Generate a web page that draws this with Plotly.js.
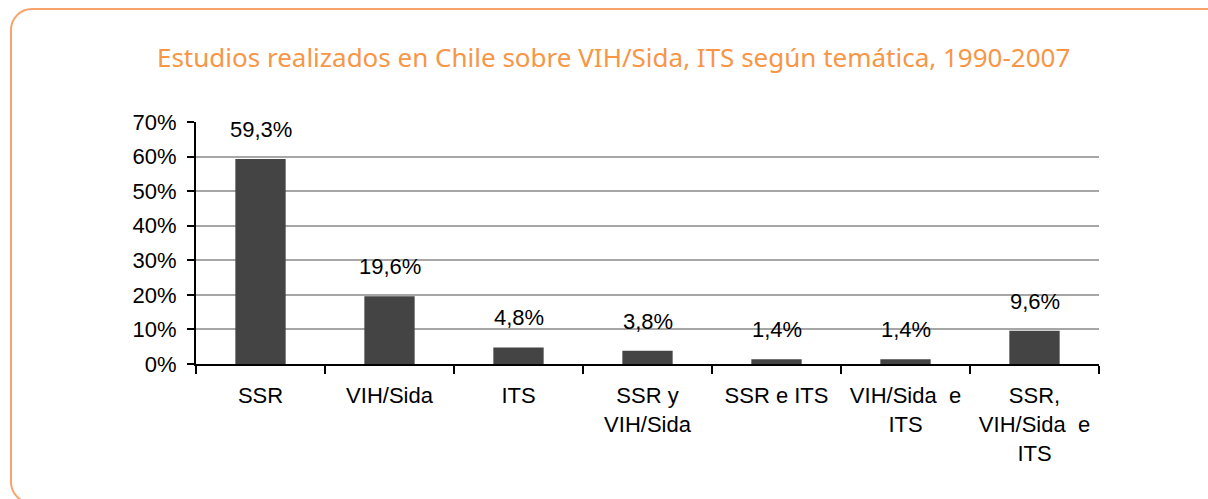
<!DOCTYPE html>
<html>
<head>
<meta charset="utf-8">
<script src="https://cdn.plot.ly/plotly-3.0.1.min.js"></script>
<style>
  html, body { margin: 0; padding: 0; background: #fff; }
  #wrap { position: relative; width: 1208px; height: 499px; overflow: hidden; }
  #frame { position: absolute; left: 10px; top: 8px; width: 1240px; height: 496px;
           border: 2px solid #F7A36B; border-radius: 22px; box-sizing: border-box; }
  #chart { position: absolute; left: 0; top: 0; width: 1208px; height: 499px; }
</style>
</head>
<body>
<div id="wrap">
  <div id="frame"></div>
  <div id="chart"></div>
</div>
<script>
const categories = ["SSR", "VIH/Sida", "ITS", "SSR y<br>VIH/Sida", "SSR e ITS", "VIH/Sida  e<br>ITS", "SSR,<br>VIH/Sida  e<br>ITS"];
const values = [59.3, 19.6, 4.8, 3.8, 1.4, 1.4, 9.6];
const yTicks = [0, 10, 20, 30, 40, 50, 60, 70];
const chartTitle = "Estudios realizados en Chile sobre VIH/Sida, ITS según temática, 1990-2007";

const fmt = v => v.toFixed(1).replace('.', ',') + '%';
const blackFont = { family: 'Liberation Sans, Arial, sans-serif', size: 22, color: '#000' };

const trace = {
  type: 'bar',
  x: categories,
  y: values,
  marker: { color: '#444444' },
  hoverinfo: 'x+y'
};

const annotations = categories.map((c, i) => ({
  x: c, y: values[i], xref: 'x', yref: 'y',
  text: fmt(values[i]), showarrow: false,
  yanchor: 'bottom', yshift: 15,
  font: blackFont
}));

const layout = {
  width: 1208, height: 499,
  paper_bgcolor: 'rgba(0,0,0,0)', plot_bgcolor: 'rgba(0,0,0,0)',
  margin: { l: 196, r: 109, t: 122, b: 135 },
  bargap: 0.61,
  showlegend: false,
  title: {
    text: chartTitle,
    font: { family: 'Noto Sans, DejaVu Sans, sans-serif', size: 26, color: '#F79646' },
    xref: 'container', x: 0.508, xanchor: 'center',
    yref: 'container', y: 1 - 58/499, yanchor: 'middle'
  },
  xaxis: {
    type: 'category',
    showline: true, linecolor: '#000', linewidth: 2,
    ticks: 'outside', tickson: 'boundaries', ticklen: 8, tickwidth: 2, tickcolor: '#000',
    ticklabelstandoff: 11,
    tickfont: blackFont,
    showgrid: false, zeroline: false, fixedrange: true
  },
  yaxis: {
    range: [0, 70], tickvals: yTicks, ticktext: yTicks.map(t => t + '%'),
    showline: true, linecolor: '#000', linewidth: 2,
    ticks: 'outside', ticklen: 7, tickwidth: 2, tickcolor: '#000',
    ticklabelstandoff: 6,
    tickfont: blackFont,
    showgrid: true, gridcolor: '#A6A6A6', gridwidth: 2,
    zeroline: false, fixedrange: true
  },
  annotations: annotations
};

Plotly.newPlot('chart', [trace], layout, { displayModeBar: false, staticPlot: true });
</script>
</body>
</html>
